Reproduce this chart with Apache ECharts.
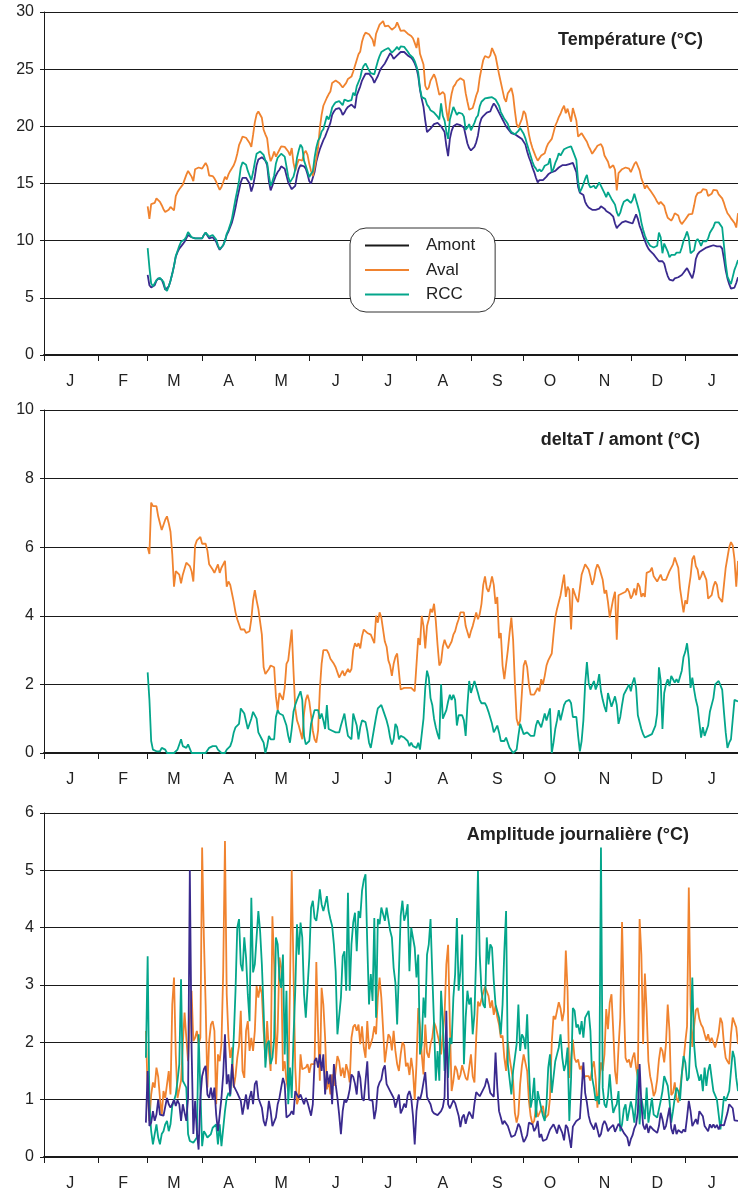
<!DOCTYPE html>
<html>
<head>
<meta charset="utf-8">
<script src="https://cdn.jsdelivr.net/npm/echarts/dist/echarts.min.js"></script>
<style>
html, body { margin: 0; padding: 0; background: #fff; }
#chart { width: 738px; height: 1197px; }
</style>
</head>
<body>
<div id="chart"></div>
<script>
// Calendar: one category per day, from 1 January to 31 January of the following year
const monthLabels = ['J', 'F', 'M', 'A', 'M', 'J', 'J', 'A', 'S', 'O', 'N', 'D', 'J'];
const monthStarts = [0, 31, 59, 90, 120, 151, 181, 212, 243, 273, 304, 334, 365];
const dayCount = 396;
const tempStartDay = 59;   // temperatures begin on 1 March
const ampStartDay = 58;    // daily amplitudes begin on 28 February

// Daily mean temperature upstream (Amont), °C, from 1 March
const amontTemp = [
  7.0,6.1,5.9,5.9,6.1,6.5,6.7,6.7,6.6,6.2,
  5.7,5.6,6.0,6.5,7.1,7.8,8.6,9.0,9.3,9.5,
  9.7,9.9,10.2,10.5,10.5,10.3,10.2,10.2,10.2,10.2,
  10.1,10.2,10.5,10.7,10.6,10.2,10.2,10.3,10.2,9.9,
  9.5,9.2,9.3,9.6,10.0,10.5,10.8,11.2,11.6,12.2,
  12.9,13.7,14.4,15.1,15.5,15.6,15.5,15.4,15.0,14.3,
  14.8,15.6,16.6,17.1,17.2,17.3,17.2,17.0,16.6,15.2,
  14.4,14.8,15.3,15.7,16.0,16.2,16.5,16.6,16.3,15.7,
  15.1,14.8,14.5,14.4,14.8,15.7,16.3,16.6,16.6,16.5,
  16.3,15.8,15.2,15.0,15.0,16.0,16.9,17.5,18.0,18.4,
  18.8,19.1,19.5,19.9,20.3,21.0,21.3,21.5,21.5,21.6,
  21.4,21.0,21.2,21.5,21.7,21.8,21.9,21.8,21.6,22.7,
  23.1,23.5,24.0,24.3,24.6,24.7,24.6,24.5,24.2,23.8,
  24.1,24.4,24.8,25.1,25.3,25.5,25.8,26.1,26.4,26.2,
  25.9,25.9,26.2,26.3,26.5,26.5,26.5,26.4,26.2,26.1,
  26.0,25.8,25.5,25.1,24.4,23.2,22.4,21.7,20.5,19.5,
  19.5,19.8,20.0,20.2,20.3,20.3,20.2,20.0,19.9,19.5,
  18.3,17.4,18.9,19.6,20.0,20.1,20.2,20.1,20.1,20.0,
  19.9,19.2,18.5,18.1,17.9,17.9,18.2,18.6,19.2,20.2,
  20.7,20.9,21.0,21.2,21.3,21.3,21.7,22.0,21.8,21.5,
  21.2,20.9,20.6,20.3,20.0,19.9,19.6,19.4,19.4,19.3,
  19.2,19.1,19.0,18.9,18.8,18.4,17.8,17.3,16.9,16.4,
  16.0,15.5,15.1,15.3,15.3,15.3,15.4,15.6,15.8,15.9,
  16.0,16.0,16.1,16.2,16.4,16.5,16.6,16.6,16.6,16.7,
  16.7,16.8,16.8,16.8,16.0,14.7,14.2,14.2,14.0,13.4,
  13.1,12.9,12.8,12.7,12.7,12.7,12.8,12.8,13.0,13.1,
  12.8,12.6,12.5,12.4,12.3,12.1,11.5,11.1,11.3,11.4,
  11.6,11.7,11.7,11.7,11.6,11.5,11.5,11.9,12.3,11.9,
  11.3,10.9,10.4,10.0,9.6,9.3,9.1,9.0,8.8,8.6,
  8.4,8.2,8.2,8.2,8.0,7.4,6.9,6.6,6.5,6.5,
  6.7,6.8,6.8,6.9,7.0,7.2,7.4,7.6,7.5,7.0,
  6.7,7.3,8.4,8.8,9.0,9.1,9.2,9.3,9.4,9.4,
  9.5,9.5,9.6,9.6,9.5,9.5,9.5,9.3,8.4,7.4,
  6.7,6.2,5.8,5.7,5.9,6.3,6.8
];

// deltaT against upstream, downstream station (Aval), °C, from 1 March
const avalDelta = [
  6.0,5.8,7.3,7.2,7.2,7.2,6.9,6.7,6.5,6.55,
  6.8,6.9,6.7,6.45,5.8,4.85,5.3,5.25,5.2,4.95,
  5.2,5.15,5.55,5.6,5.45,5.3,5.0,6.05,6.2,6.2,
  6.3,6.1,6.05,6.1,5.9,5.5,5.55,5.35,5.25,5.25,
  5.5,5.25,5.4,5.5,5.6,4.85,5.0,4.9,4.65,4.4,
  4.1,3.9,3.95,3.6,3.6,3.6,3.5,3.5,3.55,3.9,
  4.45,4.75,4.45,4.2,4.15,3.45,2.5,2.3,2.35,2.45,
  2.55,2.5,2.5,1.65,1.25,1.75,1.75,1.55,1.9,2.6,
  2.7,2.65,3.6,2.4,1.3,0.95,0.8,0.6,0.4,1.15,
  1.55,1.7,1.5,1.1,0.65,0.4,0.3,0.65,1.85,2.6,
  3.0,3.05,3.0,2.9,2.75,2.8,2.6,2.5,2.35,2.2,
  2.25,2.4,2.25,2.3,2.45,2.35,2.45,3.0,3.2,3.1,
  3.2,3.05,3.4,3.6,3.6,3.5,3.45,3.45,3.4,3.2,
  4.0,3.8,4.1,3.95,3.9,3.25,3.1,2.7,2.55,2.25,
  2.6,2.8,2.9,2.9,1.85,1.9,1.9,1.95,1.9,1.9,
  1.9,1.9,1.8,1.75,3.35,3.15,4.0,3.7,3.05,3.7,
  3.9,4.2,4.1,4.35,3.85,3.15,2.55,2.65,3.1,3.3,
  3.15,3.05,3.05,3.25,3.45,3.55,3.75,3.9,4.1,4.15,
  4.1,3.7,3.65,3.35,3.55,3.7,3.9,4.1,3.9,4.05,
  4.35,4.9,5.15,4.8,4.7,4.9,5.15,4.9,4.35,4.55,
  3.35,3.5,2.55,2.15,2.15,3.0,3.5,3.95,3.3,2.05,
  1.0,0.8,0.95,1.75,2.55,2.7,2.5,2.0,1.7,1.7,
  1.7,1.8,1.9,1.8,2.15,2.0,2.25,2.55,2.7,2.7,
  2.9,3.45,3.95,4.2,4.4,4.6,4.9,5.2,4.55,4.85,
  4.75,3.6,4.8,4.75,4.5,4.4,4.8,5.2,5.35,5.5,
  5.55,5.35,5.15,4.9,5.05,5.35,5.5,5.4,5.45,5.05,
  4.65,4.75,4.4,3.95,3.9,4.5,4.7,3.3,4.6,4.6,
  4.65,4.7,4.7,4.8,4.7,4.5,4.6,4.8,4.6,4.95,
  4.85,4.55,4.65,4.55,5.25,5.3,5.3,5.4,5.15,5.1,
  5.0,5.0,5.2,5.05,5.05,5.05,5.1,5.3,5.25,5.5,
  5.7,5.65,5.4,4.8,4.45,4.1,4.45,4.35,4.8,5.15,
  5.65,5.75,5.45,5.35,5.05,5.15,5.3,5.25,5.05,4.5,
  4.55,4.6,4.85,5.0,4.9,4.55,4.5,4.4,4.9,5.4,
  5.7,6.0,6.15,6.05,5.65,4.85,5.6
];

// deltaT against upstream, RCC station, °C, from 1 March
const rccDelta = [
  2.35,1.55,0.35,0.1,0.05,0.05,0.0,0.05,0.15,0.2,
  0.1,0,0,0,0,0,0.05,0.1,0.25,0.4,
  0.2,0.2,0.15,0.25,0.3,0,0,0,0,0,
  0,0,0,0,0.05,0.15,0.15,0.2,0.25,0.2,
  0.1,0.05,0,0,0,0.1,0.15,0.2,0.35,0.6,
  0.75,0.7,0.85,1.3,1.35,1.15,1.15,0.7,0.7,1.0,
  1.2,1.25,1.0,0.6,0.6,0.4,0.3,0,0.2,0.5,
  0.4,0.4,0.4,1.05,1.25,1.15,1.1,1.1,1.05,0.8,
  0.5,0.3,0.7,1.2,1.4,1.55,1.6,1.8,1.55,0.5,
  0.25,0.25,0.35,0.85,1.05,1.25,1.25,1.25,1.0,1.15,
  0.95,0.7,1.4,0.7,0.7,0.65,0.6,0.6,0.6,0.6,
  0.8,0.85,1.15,0.8,0.5,0.5,0.4,1.15,1.1,0.8,
  0.4,0.75,0.95,1.0,0.9,0.65,0.3,0.15,0.45,0.75,
  1.05,1.3,1.35,1.4,1.25,1.2,0.95,0.75,0.45,0.25,
  0.4,0.85,0.75,0.4,0.5,0.55,0.45,0.5,0.35,0.2,
  0.3,0.2,0.2,0.15,0.3,0.1,0.15,1.0,1.9,2.4,
  2.2,1.6,1.4,1.0,0.75,0.55,0.4,2.0,1.0,1.0,
  1.25,1.5,1.7,1.55,1.7,1.55,0.8,1.1,1.1,1.1,
  0.95,0.5,1.4,2.1,1.75,1.8,2.1,2.15,1.75,1.55,
  1.45,1.4,1.45,1.35,1.2,1.15,0.85,0.6,0.55,0.8,
  0.6,0.35,0.35,0.35,0.45,0.3,0.15,0.1,0,0,
  0.1,0.5,0.85,0.8,0.55,0.55,0.6,0.6,0.5,0.5,
  0.5,0.8,0.95,0.95,0.75,0.95,1.15,0.95,0.9,1.3,
  0.0,0.3,0.7,0.95,1.25,0.95,0.95,1.4,1.5,1.45,
  1.55,1.45,1.05,1.0,1.05,0.5,0.05,0.35,0.95,2.0,
  2.65,2.05,1.85,1.9,2.1,1.85,2.0,2.3,1.8,1.55,
  1.35,1.2,1.75,1.8,1.35,1.3,1.65,1.4,0.85,1.05,
  1.4,1.7,1.8,1.9,2.0,1.8,2.05,2.2,1.9,1.1,
  1.15,0.7,0.55,0.45,0.45,0.5,0.45,0.55,0.6,0.8,
  1.15,2.5,2.1,0.7,1.75,2.0,2.15,1.95,2.25,2.15,
  2.05,2.15,2.05,2.05,2.4,2.8,2.95,3.2,2.75,1.9,
  2.2,1.85,1.55,1.35,0.9,0.45,0.75,0.5,0.55,0.8,
  1.2,1.2,1.6,2.0,2.05,2.1,2.05,1.85,1.2,0.6,
  0.15,0.3,0.4,0.4,1.55,1.55,1.5
];

// Daily amplitude (max - min), °C, from 28 February
const ampAmont = [
  0.6,1.5,0.54,0.6,0.8,0.63,0.74,1.0,0.74,0.72,
  0.72,0.69,1.03,0.92,0.86,0.92,1.0,0.89,0.99,0.92,
  0.63,0.92,0.95,0.63,1.03,5.0,1.9,0.4,0.98,0.45,
  0.13,1.03,1.41,1.53,1.59,1.09,1.03,1.21,1.0,1.21,
  0.74,0.45,0.74,1.03,1.44,2.14,1.27,1.44,1.09,1.62,
  1.24,1.18,1.12,1.09,0.98,0.74,0.92,1.09,0.83,1.03,
  1.15,0.92,1.27,1.33,1.03,1.03,0.86,0.63,0.54,0.69,
  0.98,0.8,0.54,0.57,0.69,0.92,1.03,1.21,1.38,1.27,
  0.69,0.69,0.74,0.8,0.74,1.15,1.18,1.03,1.09,1.12,
  0.92,1.03,0.95,0.92,0.72,0.92,1.67,1.73,1.56,1.79,
  1.5,1.79,1.09,1.5,1.27,1.44,0.92,1.62,1.27,1.03,
  0.74,0.4,0.8,1.0,0.95,1.03,1.18,1.44,1.4,1.28,
  1.09,1.5,1.38,1.03,0.98,0.98,1.67,1.0,0.98,0.98,
  0.66,0.83,1.21,1.3,1.35,1.53,1.6,1.27,1.26,1.15,
  1.09,1.03,0.86,0.83,1.09,0.76,0.83,0.93,0.86,1.08,
  1.15,1.03,0.72,0.22,0.8,1.05,1.0,1.12,1.3,1.48,
  1.05,0.98,0.92,0.8,0.76,0.79,0.73,0.71,0.8,0.87,
  1.05,2.55,0.92,0.85,0.85,0.99,0.94,0.92,0.72,0.52,
  0.69,0.74,0.58,0.7,0.79,0.73,0.67,0.93,1.13,1.16,
  1.06,1.12,1.15,1.24,1.37,1.27,1.12,1.14,1.05,1.82,
  1.21,0.8,0.69,0.57,0.63,0.66,0.54,0.57,0.35,0.37,
  0.38,0.47,0.58,0.52,0.38,0.26,0.31,0.38,0.6,0.57,
  0.57,0.45,0.51,0.63,0.34,0.4,0.28,0.29,0.31,0.34,
  0.48,0.51,0.57,0.5,0.41,0.56,0.59,0.42,0.29,0.56,
  0.51,0.34,0.16,0.53,0.58,0.63,0.64,0.67,0.65,1.65,
  1.12,0.95,0.72,0.6,0.58,0.48,0.6,0.48,0.35,0.4,
  0.56,0.63,0.57,0.45,0.5,0.47,0.56,0.44,0.45,0.58,
  0.58,0.48,0.42,0.44,0.34,0.19,0.31,0.38,0.5,0.57,
  0.79,1.62,0.92,0.56,0.48,0.58,0.42,0.54,0.54,0.47,
  0.47,0.42,0.54,0.77,0.66,0.48,0.54,0.52,0.86,0.5,
  0.4,0.57,0.4,0.47,0.5,0.42,0.48,0.44,0.69,0.98,
  0.8,0.54,0.6,0.66,0.57,0.8,0.83,0.71,0.54,0.57,
  0.45,0.57,0.51,0.57,0.51,0.56,0.48,0.56,0.53,0.55,
  0.57,0.77,0.92,0.92,0.85,0.64,0.61,0.63
];

const ampAval = [
  2.2,1.15,0.63,1.09,1.3,1.21,1.56,1.4,1.03,0.72,
  1.15,1.03,1.03,1.5,1.09,2.66,3.13,1.79,1.03,1.03,
  1.33,1.97,2.52,2.08,1.67,2.37,2.9,2.02,2.08,2.2,
  1.97,2.08,5.4,3.83,2.66,1.21,2.02,2.31,2.37,2.2,
  0.92,1.79,1.67,1.97,3.24,5.51,2.84,2.08,1.73,1.91,
  1.21,1.41,1.73,1.94,2.55,1.5,1.38,2.2,2.37,1.85,
  2.08,1.85,2.2,2.98,2.78,2.98,2.84,2.2,1.73,2.37,
  1.85,1.5,4.2,3.36,1.62,2.2,3.48,3.3,1.5,1.67,
  1.33,1.15,3.0,5.0,3.24,1.56,0.92,1.03,1.79,1.53,
  1.56,1.56,1.62,1.47,1.62,1.65,1.62,3.4,2.2,1.33,
  2.95,2.66,2.08,1.18,1.33,1.09,1.44,1.24,1.5,1.76,
  1.67,1.41,1.56,1.38,1.62,1.5,1.3,2.08,2.27,2.31,
  2.2,2.31,1.97,2.28,1.91,1.73,2.37,1.88,1.97,2.08,
  2.28,2.14,2.78,3.13,2.78,2.23,1.65,1.67,2.14,2.09,
  1.86,2.2,1.85,1.62,1.5,1.79,2.0,1.95,1.58,1.64,
  1.43,1.73,1.5,1.0,1.62,2.6,2.28,1.79,1.44,2.31,
  1.82,1.73,1.97,2.08,2.35,2.27,2.3,2.0,1.79,1.79,
  2.49,3.36,3.7,2.31,1.15,1.33,1.59,1.52,1.35,1.43,
  1.6,1.62,1.38,1.34,1.56,1.79,1.41,1.3,2.08,2.71,
  2.63,2.66,2.87,2.97,2.94,2.81,2.6,2.73,2.48,2.64,
  2.44,2.31,2.08,2.12,1.73,1.5,2.02,1.73,1.7,1.33,
  0.77,0.6,0.74,1.27,1.59,1.79,1.76,1.5,0.98,0.71,
  0.58,0.63,0.85,0.7,0.72,0.83,0.89,0.67,0.67,0.74,
  1.03,2.0,2.46,2.4,2.55,2.7,2.59,2.37,2.55,3.6,
  2.9,1.38,1.73,2.05,1.72,1.65,1.7,1.53,1.59,1.36,
  1.41,1.44,1.41,1.33,1.56,1.67,1.36,0.86,0.89,1.65,
  1.5,1.79,2.58,2.23,2.69,2.84,2.2,1.5,1.27,1.91,
  2.43,4.1,2.72,1.73,1.65,1.7,1.56,1.73,1.82,1.56,
  1.38,4.15,3.53,1.97,3.2,2.55,1.67,1.41,1.27,1.06,
  1.14,1.35,1.7,1.91,1.85,1.65,1.97,2.66,2.2,1.08,
  1.12,1.3,1.03,0.95,1.18,1.44,1.67,2.0,2.28,4.7,
  2.66,1.92,2.28,2.56,2.6,2.41,2.31,2.26,2.14,2.03,
  2.14,2.0,2.08,2.09,1.91,2.03,2.17,2.43,2.34,1.97,
  1.73,1.67,1.62,2.14,2.43,2.4,2.26,1.97
];

const ampRcc = [
  1.73,3.5,0.92,0.45,0.22,0.4,0.57,0.34,0.22,0.4,
  0.45,0.57,0.63,0.45,0.57,0.89,0.98,1.09,1.33,1.62,
  3.1,1.33,1.27,1.21,0.4,0.28,0.25,0.25,0.28,0.34,
  2.14,2.14,0.19,0.45,0.4,0.34,0.34,0.4,0.51,0.54,
  0.57,0.22,0.57,0.19,0.22,0.8,1.03,1.12,1.06,1.03,
  2.08,2.9,4.0,4.15,3.36,3.24,3.83,3.48,2.84,2.37,
  4.52,3.22,3.36,3.83,4.29,3.94,3.36,2.55,1.56,1.97,
  2.03,1.62,1.73,2.08,3.83,3.71,3.13,2.95,3.53,1.79,
  2.9,0.92,1.56,1.03,2.08,2.9,4.06,3.53,4.09,3.83,
  2.84,2.43,2.43,3.48,4.35,4.47,4.17,4.12,4.35,4.67,
  4.41,4.29,4.41,4.55,4.29,4.15,4.03,3.71,3.24,2.14,
  2.14,2.78,3.5,3.59,2.9,4.61,2.9,3.71,4.09,4.26,
  3.59,4.29,4.17,4.64,4.83,4.93,3.71,2.66,3.19,2.72,
  4.17,2.43,4.15,4.06,4.35,4.38,4.12,4.35,4.15,3.95,
  3.83,3.3,3.04,2.31,3.24,4.2,4.47,4.12,4.23,4.41,
  3.24,4.0,3.97,3.65,3.13,3.53,1.79,1.97,2.78,2.43,
  3.53,3.71,4.15,3.19,2.31,1.33,1.85,1.33,2.9,2.37,
  1.5,2.08,1.38,2.08,1.97,2.78,3.19,4.17,2.9,3.24,
  3.88,1.62,2.43,2.9,2.66,2.78,2.14,2.49,3.53,4.99,
  3.53,2.9,2.66,2.6,3.83,3.36,3.71,3.65,3.07,2.66,
  2.66,2.43,2.14,2.66,3.59,4.29,1.62,1.62,1.09,1.5,
  1.5,1.97,2.66,1.85,2.14,2.08,1.88,2.49,1.56,0.86,
  1.03,1.38,0.69,1.15,1.0,0.85,0.72,0.63,0.92,1.56,
  1.79,1.12,1.15,1.67,1.79,1.91,2.14,1.73,1.5,1.62,
  1.91,0.63,1.38,2.6,2.55,2.26,2.31,2.14,2.37,2.08,
  2.43,2.43,2.55,2.2,1.38,1.21,0.98,1.06,0.92,5.4,
  1.21,0.92,0.86,1.06,1.44,1.03,0.77,0.86,0.92,1.15,
  0.45,0.57,0.83,0.92,0.63,0.8,0.97,0.83,0.6,0.95,
  1.53,0.57,1.03,0.85,0.66,1.21,0.6,0.63,1.03,0.74,
  0.72,0.69,0.69,0.98,1.15,1.41,1.41,1.24,0.98,0.6,
  0.8,1.03,1.21,1.15,0.98,1.44,1.76,1.65,1.33,1.38,
  2.08,3.13,1.97,1.59,1.56,1.33,1.44,1.15,1.56,1.24,
  1.5,1.62,1.38,1.15,1.15,1.0,0.74,0.48,0.74,1.06,
  0.98,1.06,1.15,1.18,1.85,1.73,1.38,1.15
];

// Downstream and RCC temperatures are the upstream reading plus their measured deltaT
const avalTemp = amontTemp.map((t, i) => +(t + avalDelta[i]).toFixed(2));
const rccTemp = amontTemp.map((t, i) => +(t + rccDelta[i]).toFixed(2));

const COLORS = { Amont: '#3a2a8e', Aval: '#f0832f', RCC: '#04a68b' };
const FONT = '"Liberation Sans", Arial, Helvetica, sans-serif';
const INK = '#1a1a1a';

const days = Array.from({ length: dayCount }, (_, i) => String(i));
const monthLetterAt = {};
monthStarts.forEach((s, m) => {
  const end = m + 1 < monthStarts.length ? monthStarts[m + 1] : dayCount;
  monthLetterAt[s + Math.floor((end - s) / 2)] = monthLabels[m];
});
const startSet = new Set(monthStarts);

function place(values, start) {
  const out = new Array(dayCount).fill(null);
  values.forEach((v, i) => { if (start + i < dayCount) out[start + i] = v; });
  return out;
}

const grids = [
  { left: 44, right: 0, top: 12, height: 343 },
  { left: 44, right: 0, top: 410, height: 343 },
  { left: 44, right: 0, top: 813, height: 344 }
];

function xAxisFor(gridIndex) {
  return {
    type: 'category', gridIndex, data: days, boundaryGap: false,
    axisLine: { show: true, lineStyle: { color: INK, width: 2 } },
    axisTick: { show: true, length: 6, interval: (i) => startSet.has(i), lineStyle: { color: INK, width: 1 } },
    axisLabel: {
      interval: (i) => monthLetterAt[i] !== undefined,
      formatter: (v) => monthLetterAt[v] || '',
      margin: 19, fontSize: 16, color: '#222', fontFamily: FONT
    },
    splitLine: { show: false }
  };
}

function yAxisFor(gridIndex, max, interval) {
  return {
    type: 'value', gridIndex, min: 0, max, interval,
    axisLine: { show: true, lineStyle: { color: INK, width: 1 } },
    axisTick: { show: true, length: 4, lineStyle: { color: INK } },
    axisLabel: { fontSize: 16, color: '#222', margin: 10, fontFamily: FONT },
    splitLine: { show: true, lineStyle: { color: INK, width: 1 } }
  };
}

function line(name, data, axis, z) {
  return {
    type: 'line', name, data, xAxisIndex: axis, yAxisIndex: axis,
    showSymbol: false, symbol: 'none', connectNulls: false, z: z || 2,
    lineStyle: { color: COLORS[name], width: 1.8 },
    itemStyle: { color: COLORS[name] },
    emphasis: { disabled: true }
  };
}

function panelTitle(text, right, top) {
  return {
    text, right, top, padding: 0,
    textStyle: { fontSize: 18, fontWeight: 'bold', color: '#222', fontFamily: FONT }
  };
}

const option = {
  animation: false,
  backgroundColor: '#fff',
  title: [
    panelTitle('Température (°C)', 35, 31),
    panelTitle('deltaT / amont (°C)', 38, 431),
    panelTitle('Amplitude journalière (°C)', 49, 826)
  ],
  legend: {
    orient: 'vertical', left: 350, top: 228,
    icon: 'rect', itemWidth: 44, itemHeight: 2, itemGap: 7.5,
    padding: [9, 20, 9, 15],
    backgroundColor: '#fff', borderColor: '#333', borderWidth: 1, borderRadius: 16,
    textStyle: { fontSize: 17, color: '#222', fontFamily: FONT, lineHeight: 17, padding: [0, 0, 0, 12] },
    selectedMode: false,
    data: [
      { name: 'Amont', itemStyle: { color: INK } },
      { name: 'Aval' },
      { name: 'RCC' }
    ]
  },
  grid: grids,
  xAxis: [xAxisFor(0), xAxisFor(1), xAxisFor(2)],
  yAxis: [yAxisFor(0, 30, 5), yAxisFor(1, 10, 2), yAxisFor(2, 6, 1)],
  series: [
    line('Amont', place(amontTemp, tempStartDay), 0),
    line('Aval', place(avalTemp, tempStartDay), 0),
    line('RCC', place(rccTemp, tempStartDay), 0),
    line('Aval', place(avalDelta, tempStartDay), 1),
    line('RCC', place(rccDelta, tempStartDay), 1),
    line('Aval', place(ampAval, ampStartDay), 2),
    line('RCC', place(ampRcc, ampStartDay), 2),
    line('Amont', place(ampAmont, ampStartDay), 2, 3)
  ]
};

const chart = echarts.init(document.getElementById('chart'), null, { renderer: 'canvas' });
chart.setOption(option);
</script>
</body>
</html>
